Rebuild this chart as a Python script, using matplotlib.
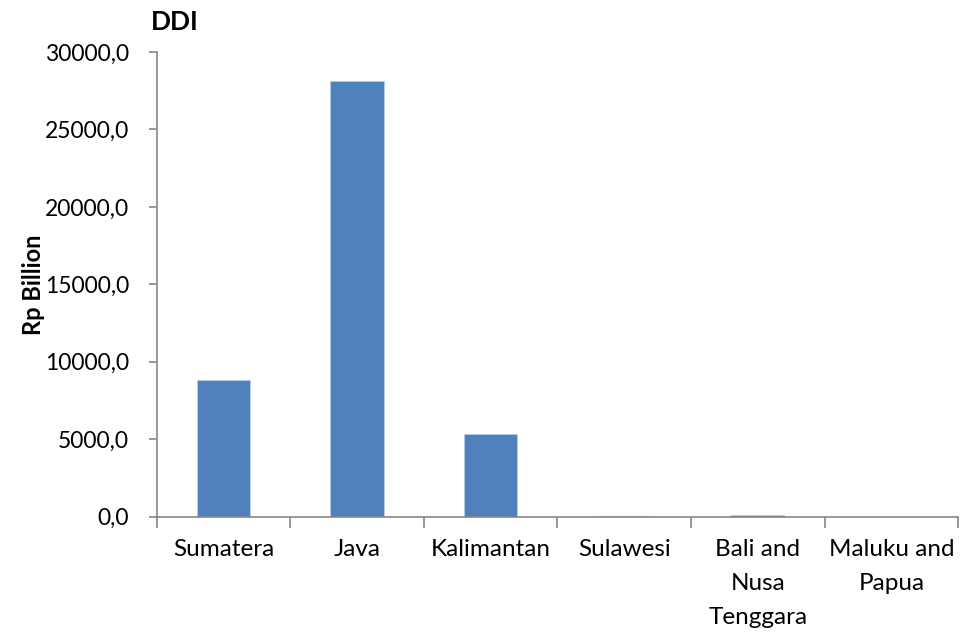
import matplotlib
matplotlib.use("Agg")
import matplotlib.pyplot as plt

regions = ["Sumatera", "Java", "Kalimantan", "Sulawesi", "Bali and\nNusa\nTenggara", "Maluku and\nPapua"]
ddi = [8820, 28130, 5330, 30, 80, 5]
yticks = [0, 5000, 10000, 15000, 20000, 25000, 30000]

plt.rcParams['font.family'] = ['Lato', 'DejaVu Sans']

fig = plt.figure(figsize=(9.61, 6.34), dpi=100)
ax = fig.add_axes([0.163, 0.185, 0.834, 0.733])

x = range(len(regions))
ax.bar(x, ddi, width=0.4, color="#4F81BD", edgecolor="#B9CDE5", linewidth=0.6)

ax.set_xlim(-0.5, len(regions) - 0.5)
ax.set_ylim(0, 30000)
ax.set_yticks(yticks)
ax.set_yticklabels([f"{v},0" for v in yticks], fontsize=16.5)

# category labels centred, ticks on the boundaries
ax.set_xticks([i + 0.5 for i in range(-1, len(regions))])
ax.set_xticklabels([])
ax.set_xticks(list(x), minor=True)
ax.set_xticklabels(regions, minor=True, fontsize=17.5, linespacing=1.76)
ax.tick_params(axis="x", which="minor", length=0, pad=16)
ax.tick_params(axis="x", which="major", length=8, color="#868686", width=1.2)
ax.tick_params(axis="y", length=6, color="#868686", width=1.2, pad=14)

for s in ["top", "right"]:
    ax.spines[s].set_visible(False)
for s in ["left", "bottom"]:
    ax.spines[s].set_color("#868686")
    ax.spines[s].set_linewidth(1.2)

ax.set_ylabel("Rp Billion", fontsize=17, fontweight="bold", labelpad=0)
fig.text(0.157, 0.965, "DDI", fontsize=19, fontweight="bold", va="center")

fig.savefig("out.png", dpi=100)
